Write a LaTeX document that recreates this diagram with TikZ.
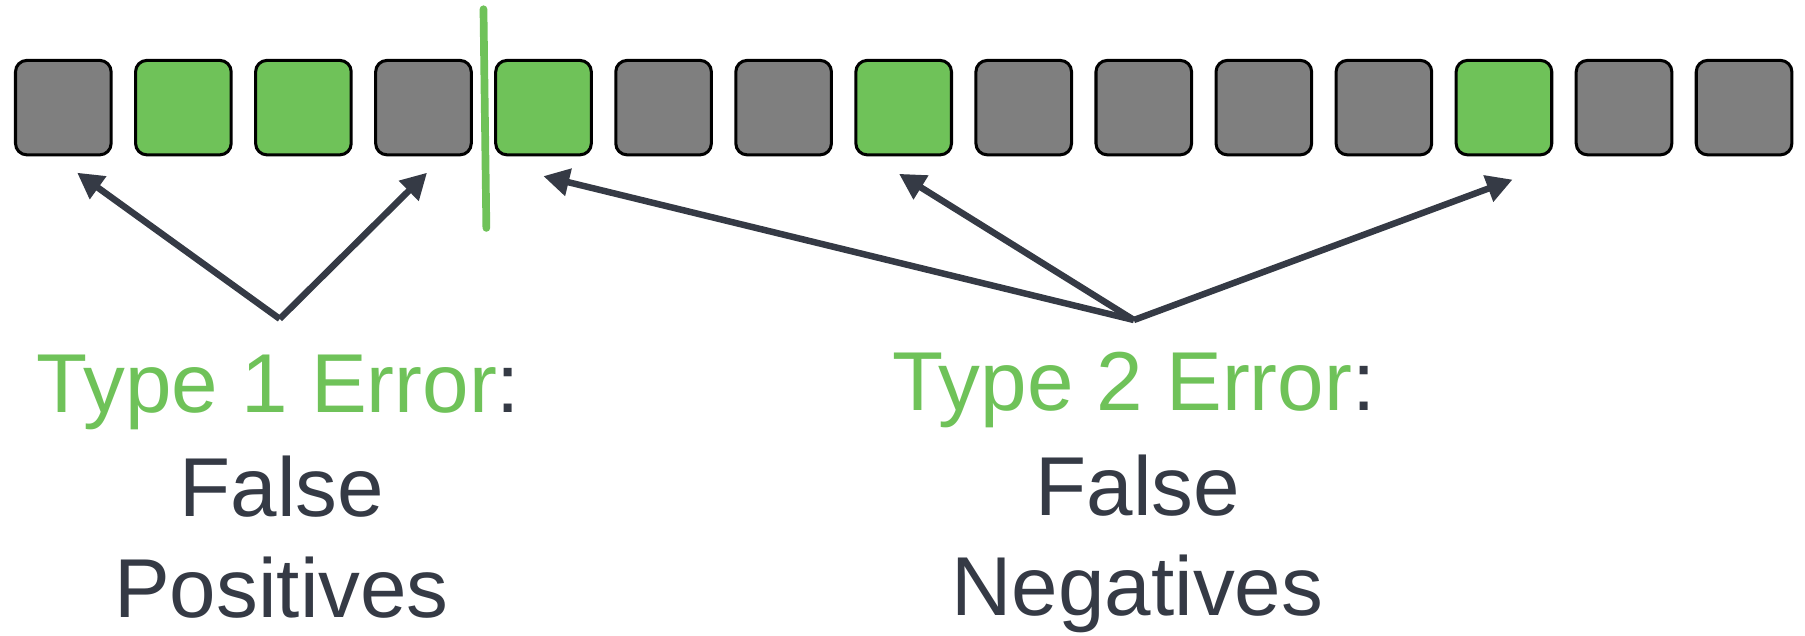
\documentclass[tikz,border=0pt]{standalone}
\usepackage{fontspec}
\setmainfont{Liberation Sans}
\usetikzlibrary{arrows.meta}
\definecolor{boxgreen}{RGB}{111,194,89}
\definecolor{boxgray}{RGB}{127,127,127}
\definecolor{ink}{RGB}{53,58,69}
\begin{document}
\begin{tikzpicture}[x=0.01cm,y=-0.01cm,
  sq/.style={draw=black, line width=0.75pt, rounded corners=2.8pt, minimum width=0.83cm, minimum height=0.82cm, inner sep=0pt},
  lbl/.style={anchor=base, inner sep=0pt, text=ink, font=\fontsize{20.65pt}{25pt}\selectfont},
  arr/.style={draw=ink, line width=1.6pt, -{Triangle[length=6.4pt,width=6.6pt]}},
  divider/.style={draw=boxgreen, line width=1.9pt, line cap=round}]
\useasboundingbox (0,0) rectangle (1568,552);
\foreach \i/\c in {0/boxgray,1/boxgreen,2/boxgreen,3/boxgray,4/boxgreen,5/boxgray,6/boxgray,7/boxgreen,8/boxgray,9/boxgray,10/boxgray,11/boxgray,12/boxgreen,13/boxgray,14/boxgray}
  \node[sq, fill=\c] (s\i) at ({55+\i*104.29}, 93.5) {};
% divider
\coordinate (g1) at (420,8);
\coordinate (g2) at (422.5,198);
\draw[divider] (g1) -- (g2);
% type 1 arrows
\coordinate (j1) at (243,277);
\coordinate (p1) at (67,150);
\coordinate (p2) at (371,150);
\draw[arr] (j1) -- (p1);
\draw[arr] (j1) -- (p2);
% type 2 arrows
\coordinate (j2) at (985,278);
\coordinate (n1) at (472,153);
\coordinate (n2) at (781,151);
\coordinate (n3) at (1314,156);
\draw[arr] (j2) -- (n1);
\draw[arr] (j2) -- (n2);
\draw[arr] (j2) -- (n3);
% labels
\node[lbl] (t1a) at (242,358) {\textcolor{boxgreen}{Type 1 Error}:};
\node[lbl] (t1b) at (245,448.5) {False};
\node[lbl] (t1c) at (244.5,536) {Positives};
\node[lbl] (t2a) at (985,357) {\textcolor{boxgreen}{Type 2 Error}:};
\node[lbl] (t2b) at (988.5,448) {False};
\node[lbl] (t2c) at (988,535) {Negatives};
\end{tikzpicture}
\end{document}
